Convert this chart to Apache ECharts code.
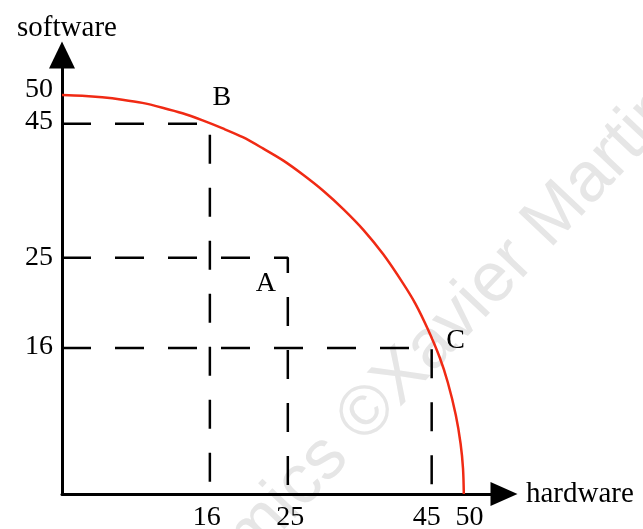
<!DOCTYPE html>
<html>
<head>
<meta charset="utf-8">
<script src="https://cdn.jsdelivr.net/npm/echarts@6/dist/echarts.min.js"></script>
<style>
  html, body { margin: 0; padding: 0; background: #fff; }
  #chart { width: 643px; height: 529px; }
</style>
</head>
<body>
<div id="chart"></div>
<script>
// tick positions as drawn in the picture, and the text shown at them
const xTickPos = [18.0, 28.4, 45.4, 50.7]
const xTickText = ['16', '25', '45', '50']
const yTickPos = [50.6, 46.7, 29.6, 18.4]
const yTickText = ['50', '45', '25', '16']

// production possibility frontier
const curveX = [0, 2.5, 5, 7.5, 10, 12.5, 15, 17.5, 20, 22.5, 25, 27.5, 30, 32.5,
  35, 37.5, 40, 42.5, 44, 45.5, 47, 48, 49, 49.6, 49.9, 50]
const curveY = [50, 49.9, 49.7, 49.4, 49, 48.4, 47.7, 46.8, 45.8, 44.7, 43.3, 41.8, 40, 38,
  35.7, 33.1, 30, 26.3, 23.8, 20.7, 17.1, 14, 9.9, 6.3, 3.2, 0]

// labelled points
const pointNames = ['B', 'A', 'C']
const pointX = [18.4, 28.1, 46.0]
const pointY = [46.4, 29.6, 18.3]
const labelOffsets = [[12, -26], [-22, 26], [24, -7]]

const serif = 'Liberation Serif'

function pickText(pos, texts, value) {
  let best = 0
  for (let i = 1; i < pos.length; i++) {
    if (Math.abs(pos[i] - value) < Math.abs(pos[best] - value)) best = i
  }
  return texts[best]
}

const chart = echarts.init(document.getElementById('chart'))

const dashed = pointNames.map(function(name, i) {
  return {
    type: 'line',
    name: 'guide ' + name,
    data: [[0, pointY[i]], [pointX[i], pointY[i]], [pointX[i], 0]],
    symbol: 'none',
    lineStyle: { color: '#000', width: 2.5, type: [29, 24], cap: 'butt' },
    z: 3
  }
})

const option = {
  animation: false,
  backgroundColor: '#fff',
  grid: {
    left: 62,
    top: 55,
    right: 139,
    bottom: 35,
    containLabel: false,
    outerBoundsMode: 'none'
  },
  xAxis: {
    type: 'value',
    min: 0,
    max: 55,
    name: 'hardware',
    nameLocation: 'end',
    nameGap: 22,
    nameTextStyle: { fontFamily: serif, fontSize: 29, color: '#000' },
    axisLine: {
      show: true,
      symbol: ['none', 'triangle'],
      symbolSize: [24, 27],
      lineStyle: { color: '#000', width: 3 }
    },
    axisTick: { show: false },
    splitLine: { show: false },
    axisLabel: {
      customValues: xTickPos,
      margin: 10,
      fontFamily: serif,
      fontSize: 28,
      color: '#000',
      formatter: function(v) { return pickText(xTickPos, xTickText, v) }
    }
  },
  yAxis: {
    type: 'value',
    min: 0,
    max: 55,
    name: 'software',
    nameLocation: 'end',
    nameGap: 12,
    nameTextStyle: { fontFamily: serif, fontSize: 29, color: '#000', padding: [0, 0, 0, 10] },
    axisLine: {
      show: true,
      symbol: ['none', 'triangle'],
      symbolSize: [26, 27],
      lineStyle: { color: '#000', width: 3 }
    },
    axisTick: { show: false },
    splitLine: { show: false },
    axisLabel: {
      customValues: yTickPos,
      margin: 9,
      fontFamily: serif,
      fontSize: 28,
      color: '#000',
      formatter: function(v) { return pickText(yTickPos, yTickText, v) }
    }
  },
  graphic: [
    {
      type: 'text',
      x: 350,
      y: 432,
      rotation: 46.5 * Math.PI / 180,
      z: -10,
      silent: true,
      style: {
        text: '©Xavier Martin',
        fill: '#e6e6e6',
        font: '70px "Liberation Sans"',
        textAlign: 'left',
        textVerticalAlign: 'middle'
      }
    },
    {
      type: 'text',
      x: 350,
      y: 432,
      rotation: 46.5 * Math.PI / 180,
      z: -10,
      silent: true,
      style: {
        text: 'Economics ',
        fill: '#e6e6e6',
        font: '70px "Liberation Sans"',
        textAlign: 'right',
        textVerticalAlign: 'middle'
      }
    }
  ],
  series: dashed.concat([
    {
      type: 'line',
      name: 'PPF',
      data: curveX.map(function(x, i) { return [x, curveY[i]] }),
      symbol: 'none',
      smooth: 0.3,
      lineStyle: { color: '#f02a14', width: 2.5 },
      z: 4
    },
    {
      type: 'scatter',
      name: 'points',
      symbolSize: 0,
      itemStyle: { opacity: 1 },
      data: pointNames.map(function(n, i) {
        return {
          name: n,
          value: [pointX[i], pointY[i]],
          label: { offset: labelOffsets[i] }
        }
      }),
      label: {
        show: true,
        position: 'inside',
        formatter: '{b}',
        fontFamily: serif,
        fontSize: 28,
        color: '#000'
      },
      z: 5
    }
  ])
}

chart.setOption(option)
</script>
</body>
</html>
